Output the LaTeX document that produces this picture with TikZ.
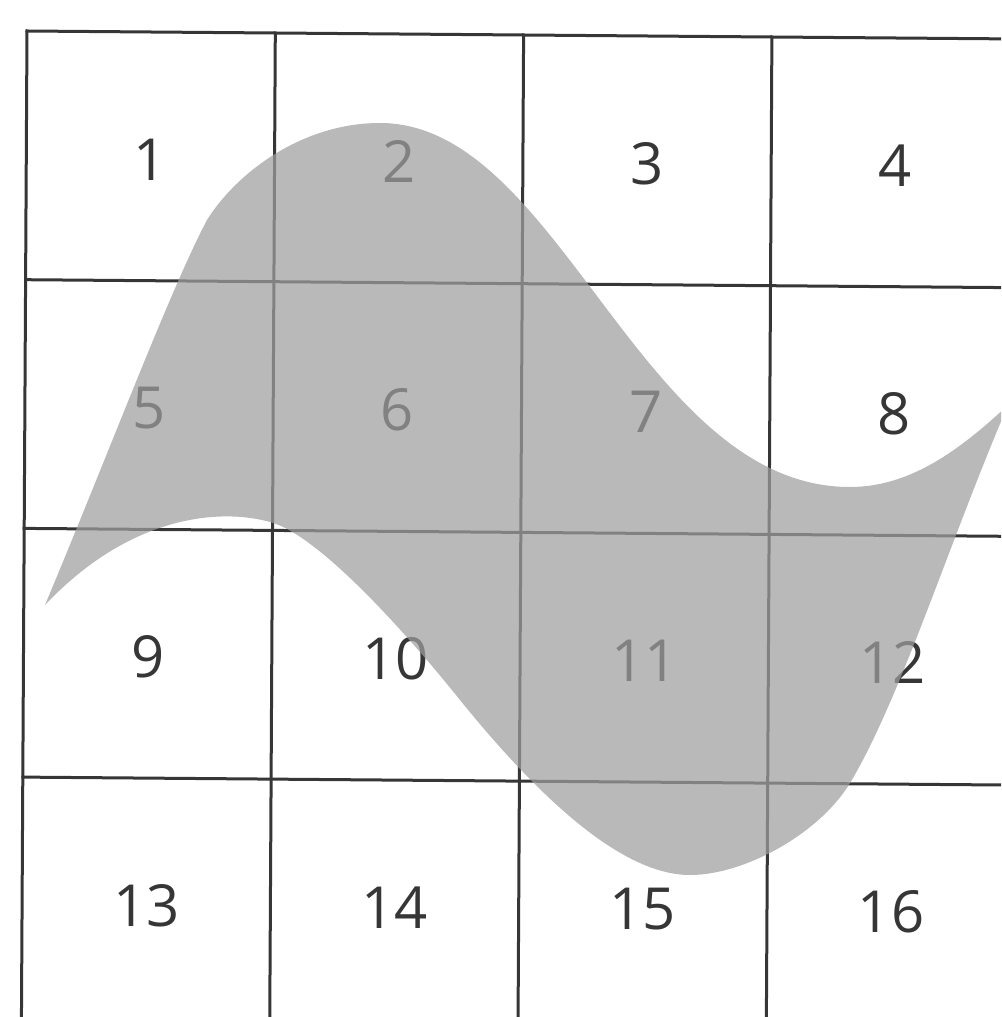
\documentclass[tikz,border=0pt]{standalone}
\usepackage{fontspec}
\setmainfont{Open Sans}
\definecolor{gridline}{HTML}{363636}
\definecolor{digit}{HTML}{363636}
\definecolor{wave}{gray}{0.62}
\tikzset{
  gridrule/.style={draw=gridline,line width=3pt,line cap=rect},
  celllabel/.style={text=digit,font=\fontsize{58}{60}\selectfont,inner sep=0pt},
  wavefill/.style={fill=wave,fill opacity=0.72}
}
\begin{document}
\begin{tikzpicture}[x=1pt,y=-1pt]
\useasboundingbox (0,0) rectangle (1001,1017);
\clip (0,0) rectangle (1001,1017);
\foreach \u in {0,...,4}{
  \foreach \v in {0,...,4}{
    \coordinate (c-\u-\v) at ({27+248.3*\u-1.4*\v},{31+248.7*\v+2*\u});
  }
}
\foreach \k in {0,...,4}{
  \draw[gridrule] (c-0-\k) -- (c-4-\k);
  \draw[gridrule] (c-\k-0) -- (c-\k-4);
}
\foreach \i in {0,...,15}{
  \pgfmathtruncatemacro\uu{mod(\i,4)}
  \pgfmathtruncatemacro\vv{div(\i,4)}
  \pgfmathtruncatemacro\nn{\i+1}
  \node[celllabel] (lab-\nn) at ({27+248.3*(\uu+0.5)-1.4*(\vv+0.5)},{31+248.7*(\vv+0.5)+2*(\uu+0.5)+3}) {\nn};
}
\fill[wavefill] (45,605) .. controls (110,450) and (170,290) .. (207,220)
  .. controls (235,175) and (300,123) .. (380,123)
  .. controls (560,123) and (640,487) .. (850,487)
  .. controls (910,487) and (960,450) .. (1008,405)
  .. controls (950,540) and (900,700) .. (850,783)
  .. controls (820,833) and (745,875) .. (690,875)
  .. controls (625,875) and (545,805) .. (460,700)
  .. controls (412,640) and (320,535) .. (270,522)
  .. controls (220,508) and (130,515) .. (45,605) -- cycle;
\end{tikzpicture}
\end{document}
